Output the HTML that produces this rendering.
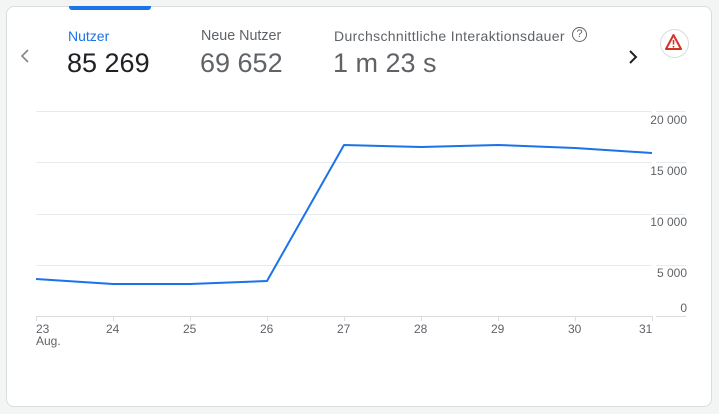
<!DOCTYPE html>
<html><head><style>
body{margin:0;background:#f3f4f4;width:719px;height:414px;overflow:hidden;font-family:"Liberation Sans",sans-serif}
.card{position:absolute;left:6px;top:6px;width:704px;height:399px;background:#fff;border:1px solid #dadce0;border-radius:8px}
.t{position:absolute;white-space:nowrap}
</style></head><body>
<div class="card"></div>
<div style="position:absolute;left:69px;top:6px;width:82px;height:4px;background:#1a73e8;border-radius:0 0 3px 3px"></div>
<div class="t" style="left:68px;top:28px;font-size:14px;color:#1a73e8">Nutzer</div>
<div class="t" style="left:67px;top:48px;font-size:27px;color:#202124">85 269</div>
<div class="t" style="left:201px;top:28px;font-size:14.3px;color:#5f6368">Neue Nutzer</div>
<div class="t" style="left:200px;top:48px;font-size:27px;color:#5f6368">69 652</div>
<div class="t" style="left:334px;top:28px;font-size:14px;letter-spacing:0.35px;color:#5f6368">Durchschnittliche Interaktionsdauer</div>
<div class="t" style="left:572px;top:27px;width:13px;height:13px;border:1.5px solid #5f6368;border-radius:50%;font-size:11px;line-height:13px;text-align:center;color:#5f6368">?</div>
<div class="t" style="left:333px;top:48px;font-size:27px;color:#5f6368">1 m 23 s</div>
<div class="t" style="left:660px;top:29px;width:27px;height:27px;border:1px solid #dadce0;border-radius:50%"></div>
<svg style="position:absolute;left:0;top:0" width="719" height="414">
<polyline points="28,50 22,56 28,62" fill="none" stroke="#80868b" stroke-width="1.6"/>
<polyline points="630,51 636,57 630,63" fill="none" stroke="#202124" stroke-width="2"/>
<path d="M673.5 35 L681 49 L666 49 Z" fill="none" stroke="#d93025" stroke-width="2" stroke-linejoin="round"/>
<line x1="673.5" y1="40" x2="673.5" y2="44.5" stroke="#d93025" stroke-width="1.6"/>
<circle cx="673.5" cy="46.8" r="0.9" fill="#d93025"/>
<g stroke="#e8eaed" stroke-width="1">
<line x1="36" y1="111.5" x2="652" y2="111.5"/><line x1="656" y1="111.5" x2="686" y2="111.5"/>
<line x1="36" y1="162.5" x2="652" y2="162.5"/><line x1="656" y1="162.5" x2="686" y2="162.5"/>
<line x1="36" y1="214.5" x2="652" y2="214.5"/><line x1="656" y1="214.5" x2="686" y2="214.5"/>
<line x1="36" y1="265.5" x2="652" y2="265.5"/><line x1="656" y1="265.5" x2="686" y2="265.5"/>
</g>
<g stroke="#dadce0" stroke-width="1">
<line x1="36" y1="316.5" x2="652" y2="316.5"/><line x1="656" y1="316.5" x2="686" y2="316.5"/>
<line x1="36.5" y1="316" x2="36.5" y2="321"/><line x1="113.5" y1="316" x2="113.5" y2="321"/>
<line x1="190.5" y1="316" x2="190.5" y2="321"/><line x1="267.5" y1="316" x2="267.5" y2="321"/>
<line x1="344.5" y1="316" x2="344.5" y2="321"/><line x1="421.5" y1="316" x2="421.5" y2="321"/>
<line x1="498.5" y1="316" x2="498.5" y2="321"/><line x1="575.5" y1="316" x2="575.5" y2="321"/>
<line x1="652.5" y1="316" x2="652.5" y2="321"/>
</g>
<polyline points="36,279 113,284 190,284 267,281 344,145 421,147 498,145 575,148 652,153" fill="none" stroke="#1a73e8" stroke-width="2" stroke-linejoin="round"/>
<g font-size="12" fill="#5f6368" text-anchor="end" font-family="Liberation Sans, sans-serif">
<text x="687" y="124">20 000</text><text x="687" y="175">15 000</text><text x="687" y="226">10 000</text><text x="687" y="277">5 000</text><text x="687" y="312">0</text>
</g>
<g font-size="12" fill="#5f6368" font-family="Liberation Sans, sans-serif">
<text x="36" y="333">23</text><text x="36" y="345">Aug.</text>
<text x="106" y="333">24</text><text x="183" y="333">25</text><text x="260" y="333">26</text><text x="337" y="333">27</text><text x="414" y="333">28</text><text x="491" y="333">29</text><text x="568" y="333">30</text><text x="639" y="333">31</text>
</g>
</svg>
</body></html>
